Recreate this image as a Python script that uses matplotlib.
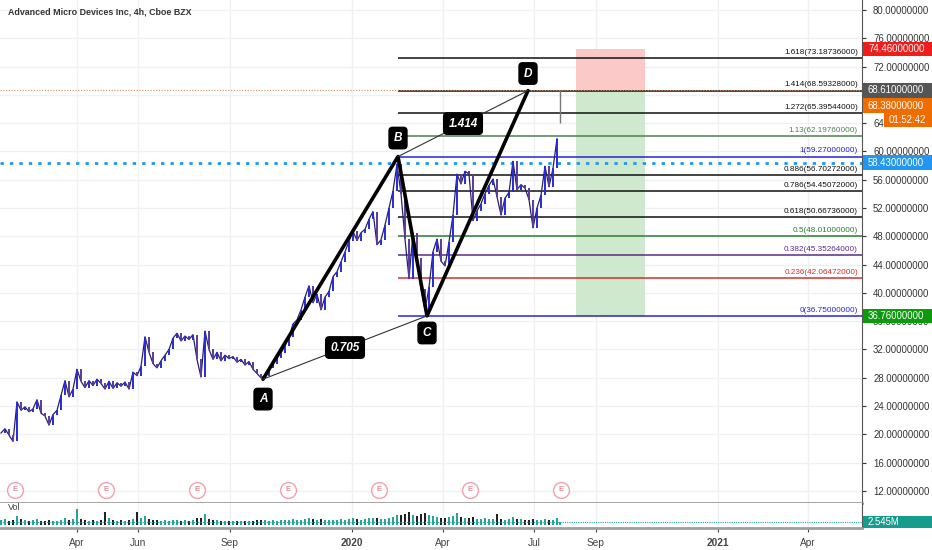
import matplotlib
matplotlib.use("Agg")
import matplotlib.pyplot as plt
import matplotlib.transforms as mtransforms
from matplotlib.patches import Rectangle
import pandas as pd

# --- data ---
closes = [20.2, 20.8, 19.9, 19.0, 24.6, 23.4, 23.9, 23.2, 23.6, 24.9,
          23.0, 22.6, 21.3, 22.8, 23.4, 25.5, 27.6, 25.3, 26.4, 29.2,
          27.5, 26.6, 27.6, 26.9, 27.8, 27.2, 26.4, 27.5, 26.5, 27.3,
          26.8, 27.4, 26.4, 28.8, 28.3, 29.6, 33.8, 31.6, 30.0, 29.4,
          30.4, 31.2, 32.0, 33.6, 34.3, 33.2, 33.9, 33.4, 34.1, 30.6,
          28.1, 34.6, 32.0, 30.6, 31.6, 30.4, 31.2, 30.7, 31.0, 30.2,
          30.6, 29.8, 30.3, 29.2, 28.6, 28.0, 28.3, 29.4, 30.0, 30.8,
          31.5, 32.5, 33.8, 35.6, 36.2, 37.6, 39.4, 41.0, 38.6, 39.8,
          37.6, 39.4, 40.2, 42.3, 43.0, 44.4, 45.8, 47.3, 48.7, 47.4,
          48.5, 49.0, 50.4, 51.5, 46.8, 47.5, 49.6, 52.0, 54.4, 58.2,
          54.0, 47.6, 42.0, 48.5, 45.0, 40.5, 37.6, 40.8, 45.8, 47.6,
          44.5, 43.8, 47.2, 51.0, 56.8, 55.4, 57.2, 56.8, 50.2, 51.6,
          52.6, 54.0, 55.2, 56.1, 53.6, 51.0, 53.4, 54.2, 58.6, 54.6,
          55.3, 54.8, 53.2, 49.2, 52.0, 53.8, 57.9, 55.0, 57.6, 61.8]
volumes = [4.5, 5.2, 3.8, 4.6, 7.5, 5.0, 4.2, 3.6, 3.9, 4.8,
           3.5, 3.8, 4.4, 3.7, 3.5, 4.6, 5.8, 4.2, 4.8, 13.5,
           5.2, 4.1, 3.6, 4.0, 3.4, 4.2, 11.0, 5.5, 4.2, 3.8,
           4.4, 3.6, 4.0, 5.2, 11.2, 6.0, 7.5, 5.2, 4.6, 3.9,
           3.8, 4.3, 3.6, 4.1, 4.5, 3.7, 3.9, 3.5, 4.2, 5.5,
           6.2, 9.6, 5.4, 4.3, 3.9, 3.6, 3.8, 3.4, 3.6, 3.3,
           3.5, 3.2, 3.4, 3.6, 4.0, 4.4, 3.9, 3.7, 4.1, 3.8,
           4.2, 3.9, 4.5, 4.9, 4.3, 4.6, 5.2, 5.6, 4.8, 4.4,
           5.0, 4.6, 4.2, 4.5, 4.1, 4.7, 4.4, 5.1, 5.5, 4.8,
           4.6, 5.2, 5.6, 6.1, 5.8, 5.0, 5.4, 6.2, 7.0, 8.5,
           8.8, 9.5, 11.0, 8.2, 7.8, 9.0, 10.2, 8.5, 7.2, 6.5,
           6.0, 5.8, 6.4, 7.2, 10.0, 6.8, 6.2, 5.6, 6.8, 5.4,
           5.0, 5.6, 5.2, 4.8, 9.4, 5.2, 4.6, 4.9, 6.8, 5.4,
           4.8, 4.4, 4.2, 5.0, 4.4, 4.0, 4.8, 4.2, 4.0, 5.6]
bar_dates = pd.date_range("2019-01-15", periods=len(closes), freq="4D")

# current (live) bar
last_date = "2020-07-27"
last_open = 64.0
last_high = 68.61
last_close = 68.38
last_volume = 2.545
countdown = "01:52:42"

# harmonic pattern points
pattern_names = ["A", "B", "C", "D"]
pattern_dates = ["2019-10-04", "2020-02-16", "2020-03-16", "2020-06-25"]
pattern_prices = [27.8, 59.27, 36.75, 68.59]
ratio_labels = ["0.705", "1.414"]

# fibonacci levels
fib_ratios = [0, 0.236, 0.382, 0.5, 0.618, 0.786, 0.886, 1, 1.13, 1.272, 1.414, 1.618]
fib_prices = [36.75, 42.06472, 45.35264, 48.01, 50.66736, 54.45072, 56.70272,
              59.27, 62.1976, 65.39544, 68.59328, 73.18736]
fib_colors = ["#2424d8", "#d32f2f", "#5e2a84", "#2e7d32", "#111111", "#111111",
              "#111111", "#2424d8", "#4f7f4f", "#111111", "#111111", "#111111"]

# long position box
pos_start, pos_end = "2020-08-12", "2020-10-20"
stop_price = 74.46
entry_price = 68.61
target_price = 36.76
mark_price = 58.43

earnings_dates = ["2019-01-29", "2019-04-30", "2019-07-30", "2019-10-29",
                  "2020-01-28", "2020-04-28", "2020-07-28"]

tick_dates = ["2019-04-01", "2019-06-01", "2019-09-01", "2020-01-01", "2020-04-01",
              "2020-07-01", "2020-09-01", "2021-01-01", "2021-04-01"]
tick_labels = ["Apr", "Jun", "Sep", "2020", "Apr", "Jul", "Sep", "2021", "Apr"]

axis_tags = [stop_price, entry_price, last_close, mark_price, target_price]
axis_tag_colors = ["#f01d1d", "#555555", "#ef6c00", "#2196f3", "#0d9a0d"]
axis_tag_shift = [0, 0, -1.9, 0, 0]   # labels pushed apart so they don't stack

# --- figure ---
plt.rcParams["font.family"] = ["Liberation Sans", "DejaVu Sans"]
fig = plt.figure(figsize=(9.32, 5.5), dpi=100)
ax = fig.add_axes([0, 47 / 550, 862 / 932, 503 / 550])
vax = fig.add_axes([0, 22 / 550, 862 / 932, 25 / 550], sharex=ax)

x0 = pd.Timestamp("2019-01-14")
x1 = pd.Timestamp("2021-05-25")
ax.set_xlim(x0, x1)
ax.set_ylim(10.3, 81.4)

tick_pos = pd.to_datetime(tick_dates)
for a in (ax, vax):
    for t in tick_pos:
        a.axvline(t, color="#eef0f4", lw=1, zorder=0)
for p in range(12, 81, 4):
    ax.axhline(p, color="#eef0f4", lw=1, zorder=0)

# position box
ps, pe = pd.Timestamp(pos_start), pd.Timestamp(pos_end)
ax.fill_between([ps, pe], entry_price, stop_price, color="#fcc9c9", lw=0, zorder=1)
ax.fill_between([ps, pe], target_price, entry_price, color="#cfe9cf", lw=0, zorder=1)

# fib levels
bdate = pd.Timestamp(pattern_dates[1])
for r, p, c in zip(fib_ratios, fib_prices, fib_colors):
    ax.hlines(p, bdate, x1, color=c, lw=1.1, zorder=2)
    ax.text(x1 - pd.Timedelta(days=4), p + 0.3, f"{r:g}({p:.8f})", ha="right", va="bottom",
            fontsize=5.9, color=c, zorder=3)

# horizontal dotted lines
ax.axhline(mark_price, color="#2196f3", lw=2, ls=(0, (1.2, 2.2)), zorder=2)
ax.axhline(entry_price, color="#d9895f", lw=0.8, ls=(0, (1, 1.5)), zorder=2)

# candles
opens = [closes[0]] + closes[:-1]
cols = ["#2a2ad6" if c >= o else "#5b3a9a" for o, c in zip(opens, closes)]
ax.plot(bar_dates, closes, color="#22226e", lw=0.9, zorder=4)
ax.vlines(bar_dates, [min(o, c) for o, c in zip(opens, closes)],
          [max(o, c) for o, c in zip(opens, closes)], colors=cols, lw=1.4, zorder=4)
ld = pd.Timestamp(last_date)
ax.vlines(ld, last_open, last_high, colors="#777777", lw=1.0, zorder=4)

# pattern
pdates = pd.to_datetime(pattern_dates)
ax.plot(pdates, pattern_prices, color="black", lw=2.6, zorder=5, solid_capstyle="round")
ax.plot([pdates[0], pdates[2]], [pattern_prices[0], pattern_prices[2]], color="#333333", lw=0.8, zorder=5)
ax.plot([pdates[1], pdates[3]], [pattern_prices[1], pattern_prices[3]], color="#333333", lw=0.8, zorder=5)
box = dict(boxstyle="round,pad=0.4,rounding_size=0.3", fc="black", ec="black")
offsets = [-10, 9, -8, 8]
for n, d, p, off in zip(pattern_names, pdates, pattern_prices, offsets):
    ax.annotate(n, (d, p), xytext=(0, off), textcoords="offset points", ha="center",
                va="top" if off < 0 else "bottom", color="white", fontsize=8.5,
                fontweight="bold", style="italic", bbox=box, zorder=7)
for (i, j), lab in zip([(0, 2), (1, 3)], ratio_labels):
    md = pdates[i] + (pdates[j] - pdates[i]) / 2
    mp = (pattern_prices[i] + pattern_prices[j]) / 2
    ax.text(md, mp, lab, ha="center", va="center", color="white", fontsize=8.5,
            fontweight="bold", style="italic", bbox=box, zorder=7)

# earnings markers
etr = mtransforms.blended_transform_factory(ax.transData, ax.transAxes)
for d in pd.to_datetime(earnings_dates):
    ax.scatter([d], [0.026], s=130, facecolor="white", edgecolor="#f2a0aa", lw=1,
               transform=etr, zorder=6, clip_on=False)
    ax.text(d, 0.026, "E", transform=etr, ha="center", va="center", fontsize=5.5,
            color="#e06070", zorder=7)

# axes styling
ax.yaxis.tick_right()
ax.set_yticks(range(12, 81, 4))
ax.yaxis.set_major_formatter(matplotlib.ticker.FormatStrFormatter("%.8f"))
ax.tick_params(axis="y", labelsize=6.9, colors="#333333", length=3, pad=5)
ax.tick_params(axis="x", bottom=False, labelbottom=False)
for s in ("left", "top"):
    ax.spines[s].set_visible(False)
ax.spines["right"].set_color("#555555")
ax.spines["bottom"].set_color("#9e9e9e")
ax.spines["bottom"].set_linewidth(2)


def axis_tag(a, y, text, color, xstart=863, half_h=1.0):
    # coloured price tag on the right scale, running to the edge of the figure
    tr = mtransforms.blended_transform_factory(fig.transFigure, a.transData)
    fig.add_artist(Rectangle((xstart / 932, y - half_h), 1 - xstart / 932, 2 * half_h,
                             transform=tr, fc=color, ec="none", zorder=8))
    fig.text((xstart + 5) / 932, y, text, transform=tr, ha="left", va="center",
             fontsize=6.9, color="white", zorder=9)


for p, c, sh in zip(axis_tags, axis_tag_colors, axis_tag_shift):
    axis_tag(ax, p + sh, f"{p:.8f}", c)
axis_tag(ax, last_open + 0.45, countdown, "#ef6c00", xstart=884)

# volume pane
vcols = ["#26a69a" if c >= o else "#222222" for o, c in zip(opens, closes)]
vax.bar(bar_dates, volumes, width=2.0, color=vcols, zorder=2)
vax.bar([ld], [last_volume], width=2.0, color="#26a69a", zorder=2)
vax.axhline(last_volume, color="#26a69a", lw=0.8, ls=(0, (1, 1)), zorder=3)
vax.set_ylim(-2.5, 18.5)
vax.set_yticks([])
vax.text(0.009, 0.72, "Vol", transform=vax.transAxes, fontsize=6.5, color="#444444")
axis_tag(vax, last_volume, f"{last_volume:.3f}M", "#169c8c", half_h=5.4)
for s in ("left", "top"):
    vax.spines[s].set_visible(False)
vax.spines["right"].set_color("#555555")
vax.spines["bottom"].set_color("#9e9e9e")
vax.spines["bottom"].set_linewidth(2)
vax.set_xticks(tick_pos)
vax.set_xticklabels(tick_labels)
vax.tick_params(axis="x", labelsize=7.3, colors="#444444", length=3, pad=4)
for lab, txt in zip(vax.get_xticklabels(), tick_labels):
    if txt.isdigit():
        lab.set_fontweight("bold")

fig.text(8 / 932, 1 - 12 / 550, "Advanced Micro Devices Inc, 4h, Cboe BZX", fontsize=6.4,
         color="#333333", va="center", fontweight="semibold")

fig.savefig("out.png", dpi=100)
